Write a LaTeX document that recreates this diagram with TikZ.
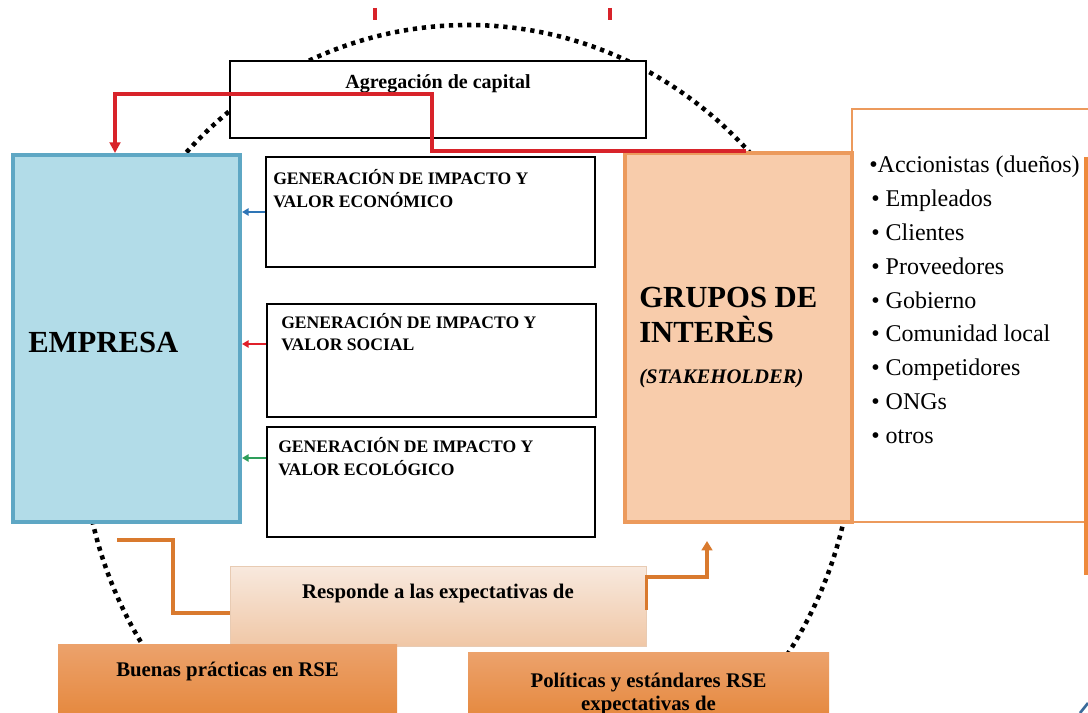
\documentclass[tikz,border=0pt]{standalone}
\usepackage{fontspec}
\setmainfont{Liberation Serif}
\usetikzlibrary{arrows.meta,fit}
\definecolor{empfill}{HTML}{B2DCE8}
\definecolor{empdraw}{HTML}{5EA7C4}
\definecolor{grpfill}{HTML}{F8CCAB}
\definecolor{grpdraw}{HTML}{EC9A5C}
\definecolor{redc}{HTML}{D8232A}
\definecolor{orc}{HTML}{D97A2E}
\definecolor{arrblue}{HTML}{2E75B6}
\definecolor{arrred}{HTML}{E0202A}
\definecolor{arrgreen}{HTML}{2E9E5B}
\definecolor{respTop}{HTML}{F8E9DE}
\definecolor{respBot}{HTML}{F0C7A6}
\definecolor{respEdge}{HTML}{E8CBB3}
\definecolor{rseTop}{HTML}{ECA26C}
\definecolor{rseBot}{HTML}{E3802F}
\definecolor{edgeor}{HTML}{EE8A3C}
\definecolor{bluemark}{HTML}{3A6A9A}
\begin{document}
\begin{tikzpicture}[x=0.75pt,y=-0.75pt,
  wbox/.style={draw=black, line width=1.2pt, fill=white, inner sep=0pt},
  empbox/.style={draw=empdraw, line width=3pt, fill=empfill, inner sep=0pt},
  grpbox/.style={draw=grpdraw, line width=3pt, fill=grpfill, inner sep=0pt},
  listbox/.style={draw=grpdraw, line width=2.2pt, fill=white, inner sep=0pt},
  respbox/.style={draw=respEdge, line width=0.6pt, top color=respTop, bottom color=respBot, inner sep=0pt},
  rsebox/.style={top color=rseTop, bottom color=rseBot, inner sep=0pt},
  txt/.style={inner sep=0pt, anchor=base west},
  ctxt/.style={inner sep=0pt, anchor=base},
  gentxt/.style={txt, font=\bfseries\fontsize{13.2}{15}\selectfont},
  bigtxt/.style={txt, font=\bfseries\fontsize{23}{27}\selectfont},
  listtxt/.style={txt, font=\fontsize{18}{21}\selectfont},
  midtxt/.style={ctxt, font=\bfseries\fontsize{15.6}{18}\selectfont},
  redconn/.style={draw=redc, line width=2.3pt},
  orconn/.style={draw=orc, line width=2.3pt},
  smallarr/.style={line width=1.5pt, -{Triangle[length=5pt,width=5.5pt]}},
  dotline/.style={line width=3.4pt, dash pattern=on 3.2pt off 3.6pt}
]
\clip (0,0) rectangle (1088,713);
\fill[white] (0,0) rectangle (1088,713);

% dotted ellipse behind everything
\draw[dotline] (468,428) ellipse [x radius=289.5pt, y radius=302.25pt];

% red marks at top
\draw[redc, line width=2.3pt] (375,8) -- (375,20);
\draw[redc, line width=2.3pt] (610,8) -- (610,20);

% boxes
\node[wbox, fit={(230,61) (646,138)}] (agr) {};
\node[empbox, fit={(13,155) (240,522)}] (emp) {};
\node[listbox, fit={(852,109) (1110,522)}] (lst) {};
\node[grpbox, fit={(625,153) (852,522)}] (grp) {};
\node[wbox, fit={(266,157) (595,267)}] (g1) {};
\node[wbox, fit={(267,304) (596,417)}] (g2) {};
\node[wbox, fit={(267,427) (595,537)}] (g3) {};
\node[respbox, fit={(230,566) (646,646)}] (resp) {};
\node[rsebox, fit={(58,644) (397,740)}] (buen) {};
\node[rsebox, fit={(468,652) (829,740)}] (pol) {};

% right-edge orange line
\draw[edgeor, line width=2.5pt] (1086,157) -- (1086,575);
% small mark bottom right
\draw[bluemark, line width=2pt] (1080,713) -- (1088,703);

% texts
\node[ctxt, font=\bfseries\fontsize{15}{18}\selectfont] (agrt) at (agr.north |- 0,89) {Agregación de capital};
\node[bigtxt] (empt) at (28,352) {EMPRESA};
\node[bigtxt] (grpt1) at (639,307) {GRUPOS DE};
\node[bigtxt] (grpt2) at (639,342) {INTERÈS};
\node[txt, font=\bfseries\itshape\fontsize{15.5}{18}\selectfont] (grpt3) at (639,383) {(STAKEHOLDER)};

\node[gentxt] (g1a) at (273,185) {GENERACIÓN DE IMPACTO Y};
\node[gentxt] (g1b) at (273,207) {VALOR ECONÓMICO};
\node[gentxt] (g2a) at (281,328) {GENERACIÓN DE IMPACTO Y};
\node[gentxt] (g2b) at (281,350) {VALOR SOCIAL};
\node[gentxt] (g3a) at (278,452) {GENERACIÓN DE IMPACTO Y};
\node[gentxt] (g3b) at (278,475) {VALOR ECOLÓGICO};

\node[listtxt] (l1) at (869,173) {•Accionistas (dueños)};
\node[listtxt] (l2) at (871,206.75) {• Empleados};
\node[listtxt] (l3) at (871,240.5) {• Clientes};
\node[listtxt] (l4) at (871,274.25) {• Proveedores};
\node[listtxt] (l5) at (871,308) {• Gobierno};
\node[listtxt] (l6) at (871,341.75) {• Comunidad local};
\node[listtxt] (l7) at (871,375.5) {• Competidores};
\node[listtxt] (l8) at (871,409.25) {• ONGs};
\node[listtxt] (l9) at (871,443) {• otros};

\node[midtxt] (respt) at (resp.north |- 0,598) {Responde a las expectativas de};
\node[midtxt] (buent) at (buen.north |- 0,676) {Buenas prácticas en RSE};
\node[midtxt] (polt1) at (pol.north |- 0,687) {Políticas y estándares RSE};
\node[midtxt] (polt2) at (pol.north |- 0,710) {expectativas de};

% connectors
\coordinate (rbend) at (432,94);
\draw[redconn, -{Triangle[length=8pt,width=8pt]}] ([xshift=92pt]grp.north west) -| (rbend) -| ([xshift=78pt]emp.north west);

\draw[smallarr, arrblue] (g1.west) -- (emp.east |- g1.west);
\draw[smallarr, arrred] (g2.west |- 0,344) -- (emp.east |- 0,344);
\draw[smallarr, arrgreen] (g3.west |- 0,458) -- (emp.east |- 0,458);

\coordinate (oL) at (117,540);
\draw[orconn] (oL) -- (173,540) |- (resp.west |- 0,613);
\coordinate (oR) at (707,541);
\draw[orconn, -{Triangle[length=7pt,width=8pt]}] (resp.east |- 0,610) -- (resp.east |- 0,577) -| (oR);
\end{tikzpicture}
\end{document}
